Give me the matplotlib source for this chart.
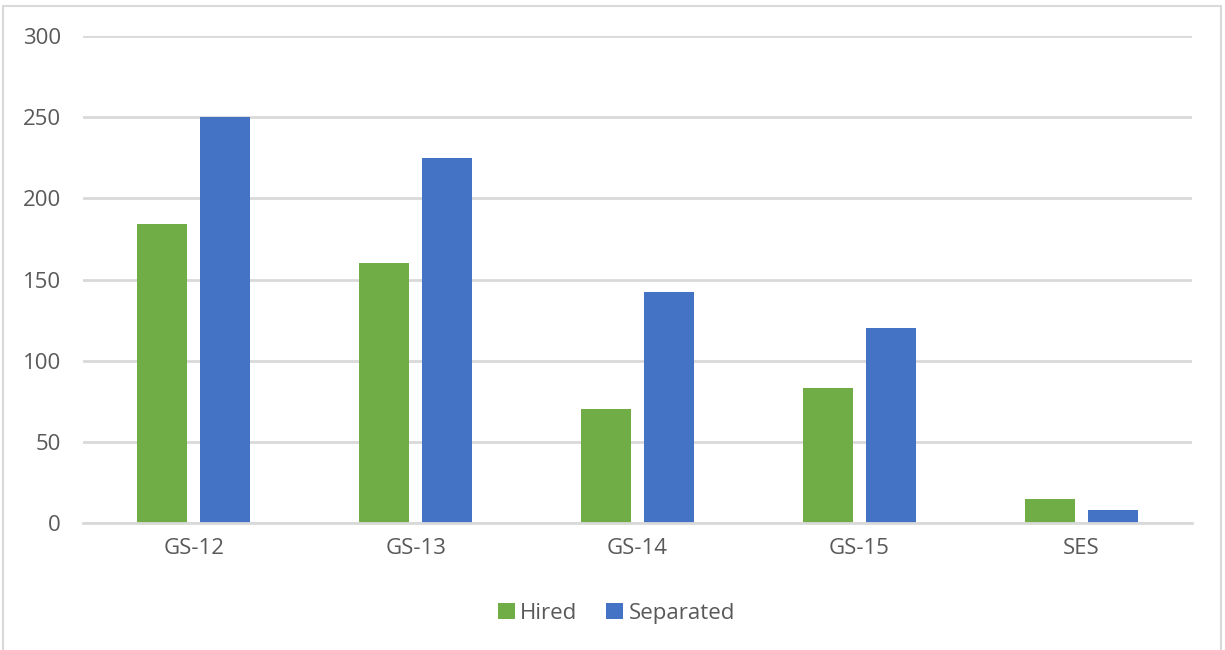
import matplotlib
matplotlib.use("Agg")
import matplotlib.pyplot as plt
from matplotlib.patches import Rectangle
import numpy as np

categories = ["GS-12", "GS-13", "GS-14", "GS-15", "SES"]
hired = [184, 160, 70, 83, 15]
separated = [250, 225, 142, 120, 8]
yticks = [0, 50, 100, 150, 200, 250, 300]

GREEN = "#70AD47"
BLUE = "#4472C4"
TXT = "#595959"
GRID = "#D9D9D9"

plt.rcParams["font.family"] = ["Open Sans", "DejaVu Sans"]

fig = plt.figure(figsize=(12.25, 6.5), dpi=100)
# outer light frame like the original export
fig.patches.append(Rectangle((3 / 1225, -0.01), (1221 - 3) / 1225, 1 - 6 / 650 + 0.01,
                             transform=fig.transFigure, fill=False,
                             edgecolor="#D9D9D9", lw=1.5))
ax = fig.add_axes([83 / 1225, 1 - 523 / 650, (1192 - 83) / 1225, (523 - 36) / 650])

x = np.arange(len(categories))
w = 0.225
off = 0.142
ax.bar(x - off, hired, w, color=GREEN, label="Hired", zorder=3)
ax.bar(x + off, separated, w, color=BLUE, label="Separated", zorder=3)

ax.set_xlim(-0.5, len(categories) - 0.5)
ax.set_ylim(0, 300)
ax.set_yticks(yticks)
ax.set_xticks(x)
ax.set_xticklabels(categories)
ax.grid(axis="y", color=GRID, lw=2.0, zorder=0)
ax.set_axisbelow(True)
for s in ["top", "right", "left"]:
    ax.spines[s].set_visible(False)
ax.spines["bottom"].set_color(GRID)
ax.spines["bottom"].set_linewidth(2.0)
ax.spines["bottom"].set_zorder(4)
ax.tick_params(axis="both", length=0, labelsize=16, labelcolor=TXT)
ax.tick_params(axis="y", pad=16)
ax.tick_params(axis="x", pad=11)

ax.legend(loc="center", bbox_to_anchor=(0.481, -0.185), ncol=2, frameon=False,
          fontsize=16, labelcolor=TXT, handlelength=0.75, handleheight=0.75,
          handletextpad=0.25, columnspacing=1.3)

fig.savefig("out.png", dpi=100)
